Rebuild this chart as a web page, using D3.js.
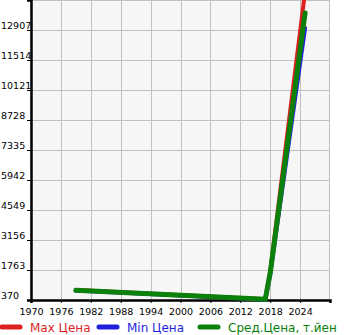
<!DOCTYPE html>
<html>
<head>
<meta charset="utf-8">
<style>
  body { margin: 0; background: #fff; }
  text { font-family: "DejaVu Sans", sans-serif; }
</style>
</head>
<body>
<svg width="345" height="335"></svg>
<script src="https://d3js.org/d3.v7.min.js"></script>
<script>

// data
var yearsTicks = [1970, 1976, 1982, 1988, 1994, 2000, 2006, 2012, 2018, 2024];
var priceTicks = [370, 1763, 3156, 4549, 5942, 7335, 8728, 10121, 11514, 12907];

var years = [1979, 2017, 2018, 2025];
var maxPrice = [830, 410, 1700, 14700];
var minPrice = [810, 390, 1550, 13000];
var avgPrice = [820, 400, 1620, 13700];

var legendNames = ["Max Цена", "Min Цена", "Сред.Цена, т.йен"];
var colors = ["#dd1f1f", "#1f1fdd", "#0b800b"];

var svg = d3.select("svg"),
    pLeft = 31, pRight = 330, pTop = 0, pBottom = 300;

var x = d3.scaleLinear().domain([1970, 2030]).range([pLeft, pRight]);
var y = d3.scaleLinear().domain([370, 14300]).range([pBottom, pTop]);

// plot background
svg.append("rect")
    .attr("x", pLeft).attr("y", pTop + 0.5)
    .attr("width", pRight - pLeft - 0.5).attr("height", pBottom - pTop)
    .attr("fill", "#f6f6f6")
    .attr("stroke", "#c0c0c0");

// grid
var grid = svg.append("g").attr("stroke", "#c0c0c0").attr("stroke-width", 1);
grid.selectAll(".gx").data(yearsTicks.slice(1)).enter().append("line")
    .attr("x1", d => Math.round(x(d)) + 0.5).attr("x2", d => Math.round(x(d)) + 0.5)
    .attr("y1", pTop).attr("y2", pBottom);
grid.selectAll(".gy").data(priceTicks.slice(1)).enter().append("line")
    .attr("y1", d => Math.round(y(d)) + 0.5).attr("y2", d => Math.round(y(d)) + 0.5)
    .attr("x1", pLeft).attr("x2", pRight);

// axes
var xAxis = svg.append("g")
    .attr("transform", "translate(0," + pBottom + ")")
    .call(d3.axisBottom(x).tickValues(yearsTicks).tickFormat(d3.format("d")).tickSize(3).tickPadding(5));
var yAxis = svg.append("g")
    .attr("transform", "translate(" + pLeft + ",0)")
    .call(d3.axisLeft(y).tickValues(priceTicks).tickSize(4).tickFormat(""));
[xAxis, yAxis].forEach(function(a) {
  a.select(".domain").attr("stroke", "#000").attr("stroke-width", 2.5);
  a.selectAll(".tick line").attr("stroke", "#000");
});
xAxis.selectAll("text").attr("font-size", 9.5).attr("fill", "#000");

// y labels left aligned
svg.append("g").selectAll("text").data(priceTicks).enter().append("text")
    .attr("x", 1)
    .attr("y", d => y(d) - 1)
    .attr("font-size", 9.5)
    .text(d => d);

// lines
var line = d3.line().x((d, i) => x(years[i])).y(d => y(d));
[maxPrice, minPrice, avgPrice].forEach(function(s, k) {
  svg.append("path")
      .attr("d", line(s))
      .attr("fill", "none")
      .attr("stroke", colors[k])
      .attr("stroke-width", k == 2 ? 5 : 4)
      .attr("stroke-linejoin", "round")
      .attr("stroke-linecap", "round");
});

// legend
var legendX = [0, 97, 198];
var lg = svg.append("g").selectAll("g").data(legendNames).enter().append("g")
    .attr("transform", (d, i) => "translate(" + legendX[i] + ",327)");
lg.append("line")
    .attr("x1", 2).attr("x2", 20).attr("y1", 0).attr("y2", 0)
    .attr("stroke", (d, i) => colors[i])
    .attr("stroke-width", 5)
    .attr("stroke-linecap", "round");
lg.append("text")
    .attr("x", 30).attr("y", 4.5)
    .attr("font-size", 12)
    .attr("fill", (d, i) => colors[i])
    .text(d => d);

</script>
</body>
</html>
